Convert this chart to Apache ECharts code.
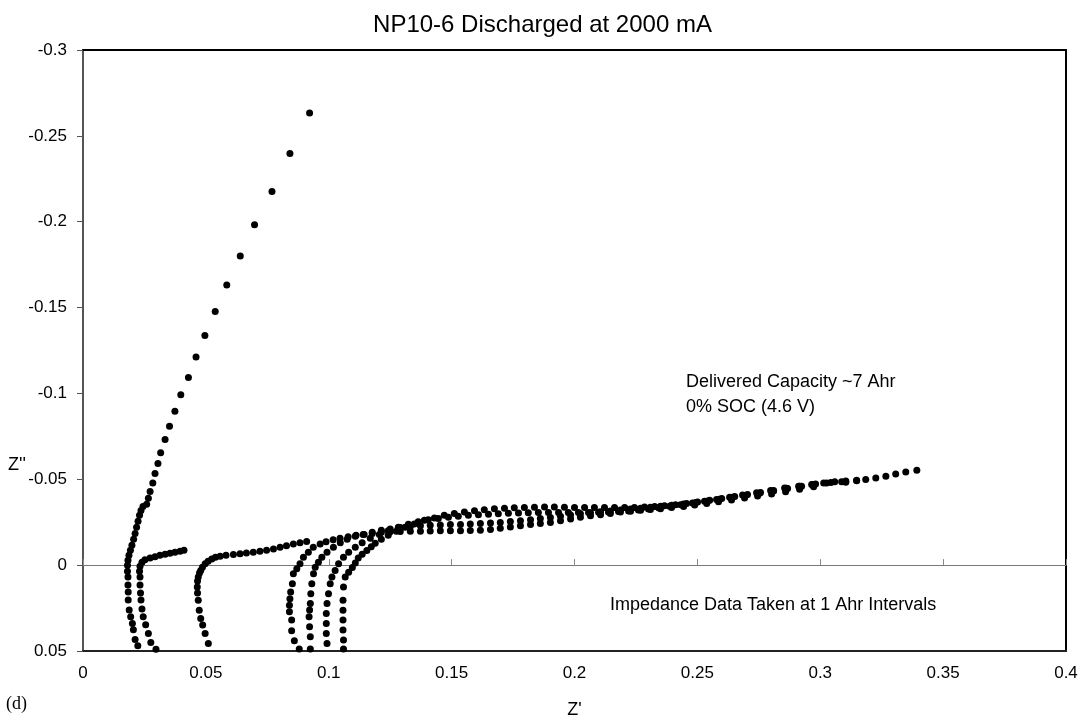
<!DOCTYPE html>
<html><head><meta charset="utf-8">
<script src="https://cdn.jsdelivr.net/npm/echarts@6/dist/echarts.min.js"></script>
<style>html,body{margin:0;padding:0;background:#fff}#c{width:1085px;height:724px}</style>
</head><body><div id="c"></div>
<script>
const chartTitle = "NP10-6 Discharged at 2000 mA";
const xName = "Z'";
const yName = "Z''";
const panelTag = "(d)";
const noteCapacity = "Delivered Capacity ~7 Ahr\n0% SOC (4.6 V)";
const noteInterval = "Impedance Data Taken at 1 Ahr Intervals";
const xMin = 0, xMax = 0.4, xStep = 0.05;
const yMin = -0.3, yMax = 0.05, yStep = 0.05;

// [Z', Z''] pairs
const curveA = [[0.0223,0.0469],[0.0212,0.0433],[0.0205,0.0376],[0.0201,0.0340],[0.0194,0.0301],[0.0188,0.0261],[0.0184,0.0203],[0.0184,0.0156],[0.0183,0.0116],[0.0183,0.0069],[0.0181,0.0035],[0.0181,0.0],[0.0183,-0.0029],[0.0187,-0.0058],[0.0193,-0.0087],[0.0199,-0.0116],[0.0206,-0.0151],[0.0212,-0.0185],[0.0218,-0.0220],[0.0224,-0.0255],[0.0230,-0.0290],[0.0236,-0.0318],[0.0244,-0.0342],[0.0259,-0.0355],[0.0266,-0.0390],[0.0273,-0.0429],[0.0284,-0.0479],[0.0293,-0.0534],[0.0305,-0.0592],[0.0316,-0.0654],[0.0334,-0.0731],[0.0352,-0.0809],[0.0374,-0.0896],[0.0398,-0.0992],[0.0429,-0.1093],[0.0460,-0.1212],[0.0496,-0.1338],[0.0538,-0.1477],[0.0585,-0.1632],[0.0640,-0.1801],[0.0698,-0.1983],[0.0769,-0.2176],[0.0842,-0.2397],[0.0922,-0.2633]];
const curveB = [[0.0297,0.0490],[0.0276,0.0450],[0.0266,0.0398],[0.0255,0.0347],[0.0245,0.0301],[0.0240,0.0255],[0.0236,0.0203],[0.0234,0.0162],[0.0232,0.0116],[0.0232,0.0069],[0.0230,0.0035],[0.0232,0.0006],[0.0240,-0.0017],[0.0252,-0.0031],[0.0273,-0.0041],[0.0293,-0.0049],[0.0313,-0.0058],[0.0334,-0.0064],[0.0354,-0.0069],[0.0374,-0.0075],[0.0395,-0.0081],[0.0411,-0.0087]];
const curveC = [[0.0510,0.0456],[0.0497,0.0398],[0.0487,0.0349],[0.0479,0.0311],[0.0473,0.0262],[0.0469,0.0204],[0.0466,0.0162],[0.0465,0.0127],[0.0466,0.0093],[0.0469,0.0069],[0.0474,0.0046],[0.0479,0.0031],[0.0486,0.0012],[0.0497,-0.0008],[0.0509,-0.0023],[0.0524,-0.0036],[0.0539,-0.0046],[0.0558,-0.0052],[0.0582,-0.0058],[0.0612,-0.0062],[0.0639,-0.0067],[0.0665,-0.0071],[0.0693,-0.0075],[0.0720,-0.0081],[0.0747,-0.0087],[0.0775,-0.0094],[0.0802,-0.0104],[0.0828,-0.0113],[0.0856,-0.0123],[0.0883,-0.0130],[0.0910,-0.0137]];
const curveD = [[0.0880,0.0488],[0.0860,0.0440],[0.0849,0.0382],[0.0849,0.0320],[0.0840,0.0272],[0.0840,0.0233],[0.0842,0.0195],[0.0845,0.0156],[0.0852,0.0108],[0.0856,0.0050],[0.0870,0.0021],[0.0883,-0.0008],[0.0897,-0.0046],[0.0917,-0.0075],[0.0937,-0.0104],[0.0965,-0.0123],[0.0989,-0.0136],[0.1018,-0.0148],[0.1046,-0.0156],[0.1079,-0.0165],[0.1111,-0.0174],[0.1144,-0.0179],[0.1177,-0.0185],[0.1214,-0.0191],[0.1250,-0.0194],[0.1291,-0.0196],[0.1332,-0.0197],[0.1373,-0.0198],[0.1413,-0.0199],[0.1454,-0.0200],[0.1495,-0.0200],[0.1536,-0.0201],[0.1576,-0.0202],[0.1617,-0.0203],[0.1658,-0.0208],[0.1698,-0.0215],[0.1739,-0.0222],[0.1780,-0.0229],[0.1821,-0.0236],[0.1861,-0.0243],[0.1902,-0.0249],[0.1943,-0.0259],[0.1984,-0.0269],[0.2024,-0.0279],[0.2065,-0.0287],[0.2106,-0.0294],[0.2146,-0.0301],[0.2187,-0.0309],[0.2228,-0.0314],[0.2269,-0.0320],[0.2309,-0.0324],[0.2350,-0.0329],[0.2395,-0.0336],[0.2444,-0.0342],[0.2489,-0.0350],[0.2538,-0.0359],[0.2586,-0.0369],[0.2639,-0.0379],[0.2692,-0.0391],[0.2745,-0.0402],[0.2802,-0.0415],[0.2859,-0.0428],[0.2916,-0.0442],[0.2973,-0.0456]];
const curveE = [[0.0925,0.0488],[0.0925,0.0417],[0.0922,0.0359],[0.0920,0.0301],[0.0922,0.0261],[0.0925,0.0224],[0.0927,0.0166],[0.0931,0.0108],[0.0938,0.0050],[0.0945,0.0012],[0.0958,-0.0017],[0.0972,-0.0046],[0.0993,-0.0075],[0.1019,-0.0104],[0.1047,-0.0130],[0.1075,-0.0151],[0.1108,-0.0168],[0.1140,-0.0179],[0.1177,-0.0191],[0.1214,-0.0203],[0.1250,-0.0211],[0.1291,-0.0219],[0.1332,-0.0225],[0.1373,-0.0229],[0.1413,-0.0232],[0.1454,-0.0234],[0.1495,-0.0236],[0.1536,-0.0237],[0.1576,-0.0240],[0.1617,-0.0242],[0.1658,-0.0245],[0.1698,-0.0249],[0.1739,-0.0254],[0.1780,-0.0259],[0.1821,-0.0265],[0.1861,-0.0271],[0.1902,-0.0278],[0.1943,-0.0285],[0.1984,-0.0292],[0.2024,-0.0299],[0.2065,-0.0305],[0.2106,-0.0311],[0.2146,-0.0316],[0.2187,-0.0321],[0.2228,-0.0327],[0.2269,-0.0332],[0.2309,-0.0337],[0.2350,-0.0343],[0.2395,-0.0349],[0.2444,-0.0356],[0.2493,-0.0365],[0.2542,-0.0374],[0.2590,-0.0384],[0.2643,-0.0395],[0.2696,-0.0406],[0.2753,-0.0419],[0.2810,-0.0432],[0.2867,-0.0446],[0.2924,-0.0460],[0.2981,-0.0472],[0.3043,-0.0481],[0.3104,-0.0483]];
const curveF = [[0.0993,0.0456],[0.0990,0.0398],[0.0990,0.0340],[0.0990,0.0282],[0.0993,0.0224],[0.0999,0.0166],[0.1006,0.0108],[0.1013,0.0069],[0.1026,0.0031],[0.1040,-0.0008],[0.1060,-0.0046],[0.1081,-0.0075],[0.1108,-0.0104],[0.1136,-0.0130],[0.1169,-0.0156],[0.1206,-0.0179],[0.1242,-0.0200],[0.1283,-0.0220],[0.1324,-0.0238],[0.1364,-0.0252],[0.1405,-0.0264],[0.1446,-0.0272],[0.1487,-0.0279],[0.1527,-0.0285],[0.1568,-0.0290],[0.1609,-0.0294],[0.1650,-0.0297],[0.1690,-0.0300],[0.1731,-0.0302],[0.1772,-0.0304],[0.1812,-0.0305],[0.1853,-0.0306],[0.1894,-0.0306],[0.1935,-0.0306],[0.1975,-0.0306],[0.2016,-0.0306],[0.2057,-0.0307],[0.2098,-0.0308],[0.2138,-0.0310],[0.2179,-0.0313],[0.2220,-0.0316],[0.2260,-0.0321],[0.2301,-0.0327],[0.2342,-0.0334],[0.2387,-0.0343],[0.2432,-0.0352],[0.2480,-0.0362],[0.2529,-0.0372],[0.2578,-0.0383],[0.2631,-0.0395],[0.2684,-0.0408],[0.2741,-0.0422],[0.2798,-0.0435],[0.2855,-0.0449],[0.2912,-0.0460],[0.2969,-0.0470],[0.3026,-0.0479],[0.3087,-0.0486],[0.3148,-0.0492]];
const curveG = [[0.1060,0.0488],[0.1060,0.0436],[0.1058,0.0378],[0.1058,0.0320],[0.1058,0.0262],[0.1058,0.0204],[0.1060,0.0127],[0.1067,0.0069],[0.1081,0.0041],[0.1096,0.0014],[0.1108,-0.0012],[0.1120,-0.0041],[0.1136,-0.0064],[0.1155,-0.0085],[0.1173,-0.0107],[0.1189,-0.0127],[0.1214,-0.0151],[0.1242,-0.0174],[0.1275,-0.0197],[0.1311,-0.0220],[0.1348,-0.0240],[0.1389,-0.0261],[0.1430,-0.0275],[0.1470,-0.0290],[0.1511,-0.0301],[0.1552,-0.0310],[0.1593,-0.0317],[0.1633,-0.0323],[0.1674,-0.0328],[0.1715,-0.0331],[0.1755,-0.0334],[0.1796,-0.0336],[0.1837,-0.0337],[0.1878,-0.0338],[0.1918,-0.0338],[0.1959,-0.0337],[0.2000,-0.0336],[0.2041,-0.0336],[0.2081,-0.0335],[0.2122,-0.0335],[0.2163,-0.0335],[0.2204,-0.0335],[0.2244,-0.0336],[0.2285,-0.0339],[0.2326,-0.0342],[0.2366,-0.0346],[0.2411,-0.0351],[0.2456,-0.0359],[0.2501,-0.0368],[0.2550,-0.0378],[0.2599,-0.0388],[0.2652,-0.0400],[0.2704,-0.0411],[0.2757,-0.0423],[0.2810,-0.0435],[0.2863,-0.0448],[0.2916,-0.0460],[0.2965,-0.0470],[0.3014,-0.0478],[0.3059,-0.0485],[0.3104,-0.0490],[0.3148,-0.0495],[0.3185,-0.0499],[0.3226,-0.0507],[0.3267,-0.0518],[0.3307,-0.0531],[0.3348,-0.0543],[0.3393,-0.0552]];

const curves = [curveA, curveB, curveC, curveD, curveE, curveF, curveG];
const FONT = "'Liberation Sans', Arial, sans-serif";
const fmt = v => String(+v.toFixed(2));

const chart = echarts.init(document.getElementById('c'), null, {renderer: 'canvas'});
chart.setOption({
  animation: false,
  backgroundColor: '#fff',
  title: {text: chartTitle, left: 'center', top: 8,
    textStyle: {fontFamily: FONT, fontSize: 24, fontWeight: 'normal', color: '#000'}},
  grid: {left: 83, right: 19, top: 50, bottom: 70, containLabel: false},
  xAxis: [
    {type: 'value', min: xMin, max: xMax, interval: xStep, position: 'bottom',
     axisLine: {onZero: false, lineStyle: {color: '#222', width: 2}},
     axisTick: {show: false}, splitLine: {show: false},
     axisLabel: {fontFamily: FONT, fontSize: 17, color: '#000', margin: 14, formatter: fmt},
     name: xName, nameLocation: 'middle', nameGap: 50,
     nameTextStyle: {fontFamily: FONT, fontSize: 18, color: '#000'}},
    {type: 'value', min: xMin, max: xMax, position: 'top',
     axisLine: {onZero: false, lineStyle: {color: '#000', width: 2}},
     axisTick: {show: false}, axisLabel: {show: false}, splitLine: {show: false}},
    {type: 'value', min: xMin, max: xMax, interval: xStep, position: 'bottom',
     axisLine: {onZero: true, lineStyle: {color: '#777', width: 1}},
     axisTick: {inside: true, length: 6, lineStyle: {color: '#888'}},
     axisLabel: {show: false}, splitLine: {show: false}}
  ],
  yAxis: [
    {type: 'value', inverse: true, min: yMin, max: yMax, interval: yStep, position: 'left',
     axisLine: {onZero: false, lineStyle: {color: '#555', width: 2}},
     axisTick: {length: 6, lineStyle: {color: '#555'}},
     splitLine: {show: false},
     axisLabel: {fontFamily: FONT, fontSize: 17, color: '#000', margin: 16, formatter: fmt}},
    {type: 'value', inverse: true, min: yMin, max: yMax, position: 'right',
     axisLine: {onZero: false, lineStyle: {color: '#000', width: 2}},
     axisTick: {show: false}, axisLabel: {show: false}, splitLine: {show: false}}
  ],
  series: curves.map((d, i) => ({
    name: 'curve' + i, type: 'scatter', xAxisIndex: 0, yAxisIndex: 0,
    data: d, symbol: 'circle', symbolSize: 7, silent: true,
    itemStyle: {color: '#000', opacity: 1}
  })),
  graphic: [
    {type: 'text', left: 6, top: 695, style: {text: panelTag, font: "18px 'Liberation Serif', 'Times New Roman', serif", fill: '#000'}},
    {type: 'text', left: 8, top: 456, style: {text: yName, font: "18px " + FONT, fill: '#000'}},
    {type: 'text', left: 686, top: 370, style: {text: noteCapacity, font: "18px " + FONT, fill: '#000', lineHeight: 25}},
    {type: 'text', left: 610, top: 596, style: {text: noteInterval, font: "18px " + FONT, fill: '#000'}}
  ]
});
</script>
</body></html>
